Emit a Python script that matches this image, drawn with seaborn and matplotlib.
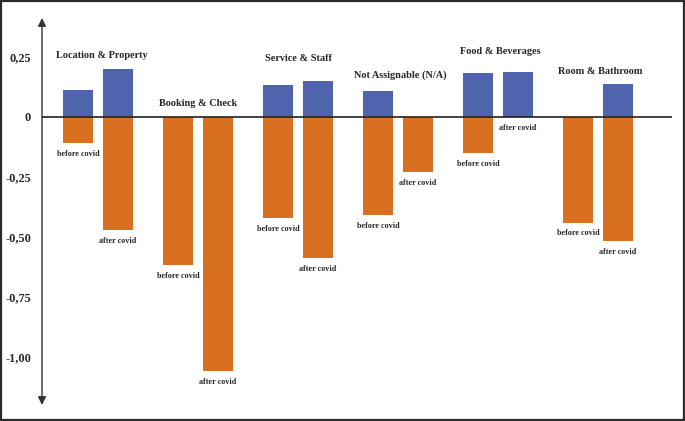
import matplotlib
matplotlib.use("Agg")

import pandas as pd
import seaborn as sns
import matplotlib.pyplot as plt
from matplotlib.patches import Rectangle

# ===============================
# data
# ===============================
groups = ['Location & Property', 'Booking & Check', 'Service & Staff',
          'Not Assignable (N/A)', 'Food & Beverages', 'Room & Bathroom']
periods = ['before covid', 'after covid']
pos_before = [0.112, 0.0, 0.133, 0.108, 0.183, 0.0]
pos_after = [0.200, 0.0, 0.150, 0.0, 0.188, 0.138]
neg_before = [-0.108, -0.617, -0.420, -0.408, -0.150, -0.440]
neg_after = [-0.470, -1.058, -0.588, -0.229, 0.0, -0.517]
yticks = [0.25, 0, -0.25, -0.50, -0.75, -1.00]
ytick_labels = ['0,25', '0', '-0,25', '-0,50', '-0,75', '-1,00']

BLUE = '#5064AE'
ORANGE = '#D97021'

rows = []
for g, name in enumerate(groups):
    for p, period in enumerate(periods):
        pos = [pos_before, pos_after][p][g]
        neg = [neg_before, neg_after][p][g]
        rows.append(dict(group=name, period=period, x=g * 2.5 + p, pos=pos, neg=neg))
df = pd.DataFrame(rows)

sns.set_style('white')
plt.rcParams['font.family'] = ['Liberation Serif', 'DejaVu Serif']
plt.rcParams['font.weight'] = 'bold'

fig = plt.figure(figsize=(6.85, 4.21), dpi=100)
ax = fig.add_axes([42 / 685, 16 / 421, 630 / 685, 387 / 421])

sns.barplot(ax=ax, data=df, x='x', y='neg', native_scale=True, width=0.75,
            color=ORANGE, saturation=1, errorbar=None, linewidth=0)
sns.barplot(ax=ax, data=df, x='x', y='pos', native_scale=True, width=0.75,
            color=BLUE, saturation=1, errorbar=None, linewidth=0)

ax.set_xlim(-0.9, 14.85)
ax.set_ylim(-1.2, 0.4125)
ax.axhline(0, color='#222222', lw=1.2, zorder=5)

# 'before/after covid' under each orange bar
for _, r in df.iterrows():
    ax.text(r['x'], r['neg'] - 0.028, r['period'], ha='center', va='top',
            fontsize=5.9, fontweight='bold')

# group names
label_y = [0.258, 0.058, 0.242, 0.175, 0.271, 0.19]
label_dx = [0.6, 0.5, 0.5, 0.55, 0.55, 0.55]
for g, name in enumerate(groups):
    ax.text(g * 2.5 + label_dx[g], label_y[g], name, ha='center', va='center',
            fontsize=7.4, fontweight='bold')

ax.set_yticks(yticks)
ax.set_yticklabels(ytick_labels, fontsize=8.8, fontweight='bold')
ax.tick_params(axis='y', length=0, pad=8)
ax.set_xticks([])
ax.set_xlabel('')
ax.set_ylabel('')
for s in ax.spines.values():
    s.set_visible(False)

# double-headed y axis
ax.annotate('', xy=(0, 1), xytext=(0, 0), xycoords='axes fraction',
            arrowprops=dict(arrowstyle='<|-|>', color='#333333', lw=1,
                            mutation_scale=12, shrinkA=0, shrinkB=0))

# frame round the figure
fig.patches.append(Rectangle((0.001, 0.002), 0.997, 0.996, transform=fig.transFigure,
                             fill=False, edgecolor='#2a2a2a', lw=1.6))

plt.savefig('out.png', dpi=100)
plt.close()
